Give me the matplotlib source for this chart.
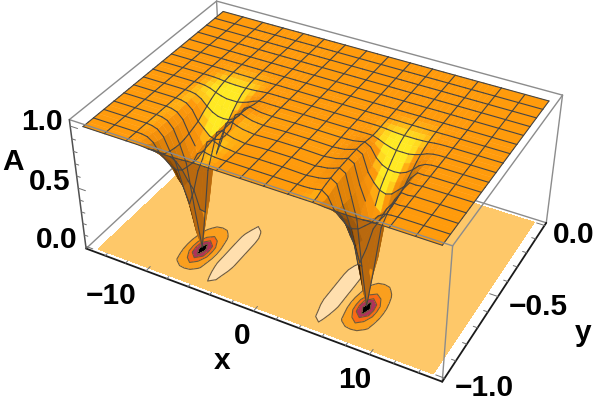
import numpy as np
import matplotlib
matplotlib.use("Agg")
import matplotlib.pyplot as plt
from mpl_toolkits.mplot3d.art3d import Line3DCollection

# ---------------- data ----------------
x_half = np.array([-15, -13, -11, -10.5, -10, -9.5, -9, -8.5, -8, -7.5, -7, -6.5, -6,
                   -5.5, -5, -4.5, -4, -3.5, -3, -1, 0])
y_vals = np.array([-30, -29, -28, -27, -26, -25, -24, -23, -22, -21, -20, -19, -18, -17, -16,
                   -15, -14, -13, -12, -11, -10, -8, -6, -4, -2, 0]) / 30
# A over x = -10.5 ... -3 for the rows y = -1 ... -1/3
A_core = [
    [1.000,1.000,.998,.994,.992,.990,.990,.990,.992,.994,.998,1.000,1.000,1.000,1,1],
    [.999,.995,.980,.950,.930,.915,.910,.915,.930,.951,.984,1.003,1.003,1.001,1,1],
    [.998,.990,.960,.895,.855,.815,.800,.815,.855,.900,.985,1.018,1.008,1.002,1,1],
    [.996,.982,.940,.850,.780,.690,.630,.690,.780,.870,.998,1.026,1.010,1.003,1,.996],
    [.995,.980,.935,.835,.750,.580,.450,.580,.750,.860,1.005,1.032,1.014,1.004,1,.994],
    [.995,.980,.930,.825,.700,.380,.170,.380,.700,.850,1.010,1.036,1.018,1.005,1,.993],
    [.995,.980,.930,.820,.680,.320,.000,.320,.680,.845,1.010,1.036,1.018,1.005,1,.993],
    [.995,.980,.930,.825,.700,.380,.170,.380,.700,.850,1.010,1.036,1.018,1.005,1,.993],
    [.995,.980,.935,.835,.750,.580,.450,.580,.750,.860,1.012,1.036,1.018,1.005,1,.994],
    [.996,.982,.940,.850,.780,.690,.650,.690,.780,.870,1.012,1.036,1.018,1.005,1,.995],
    [.996,.984,.945,.865,.820,.775,.760,.775,.820,.885,1.010,1.034,1.018,1.005,1,.996],
    [.997,.988,.955,.895,.855,.825,.820,.825,.855,.900,1.005,1.030,1.016,1.004,1,.997],
    [.998,.990,.965,.920,.885,.865,.860,.865,.885,.925,.995,1.020,1.010,1.002,1,.998],
    [.999,.993,.975,.945,.920,.905,.900,.905,.920,.945,.985,1.008,1.004,1.001,1,1],
    [1.000,.996,.985,.965,.950,.940,.940,.940,.950,.965,.985,1.000,1.001,1.000,1,1],
    [1.000,.998,.992,.980,.972,.968,.965,.968,.972,.980,.990,.998,1.000,1,1,1],
    [1.000,.999,.996,.990,.987,.985,.985,.985,.987,.990,.995,.999,1.000,1,1,1],
    [1.000,1.000,.998,.996,.995,.994,.994,.994,.995,.996,.998,1.000,1.000,1,1,1],
    [1.000,1.000,.999,.999,.998,.998,.998,.998,.998,.999,.999,1.000,1.000,1,1,1],
    [1,1,1,1,1,1,1,1,1,1,1,1,1,1,1,1],
    [1,1,1,1,1,1,1,1,1,1,1,1,1,1,1,1],
]
# soft streak to the right of the second dip, rows y = -0.9 ... -0.633, at x = 10 and x = 10.5
streak_x10 = [.998, .997, .997, .997, .997, .997, .997, .998, .999]
streak_x105 = [.996, .994, .994, .993, .993, .994, .994, .996, .998]
z_ticks_major = [0.0, 0.5, 1.0]
x_ticks_major = [-10, 0, 10]
y_ticks_major = [-1.0, -0.5, 0.0]
levels = [-0.1, 0.2, 0.4, 0.6, 0.8, 1.008, 1.2]
level_colors = ['#000000', '#b0325a', '#fa6a14', '#fa9f1e', '#fec869', '#ffdfae']
# text: string, pixel centre
labels = [("1.0", 41.7, 121.7), ("0.5", 50, 181.7), ("0.0", 56.7, 240), ("A", 13, 161.7),
          ("\u221210", 110.7, 296), ("0", 241.7, 336), ("10", 355, 380), ("x", 221.7, 360.7),
          ("0.0", 573.3, 235), ("\u22120.5", 538, 306.7), ("\u22121.0", 484, 388), ("y", 582.7, 332.7)]
# ------------------------------------------------------------

W, H = 596, 407
BX, BY0, BY1, BZ0, BZ1 = 15.9, -1.02, .02, -.02, 1.05
world = [(-BX,BY0,BZ0),(BX,BY0,BZ0),(BX,BY1,BZ0),(-BX,BY0,BZ1),(BX,BY0,BZ1),(BX,BY1,BZ1),(-BX,BY1,BZ1)]
image = [(86,248.3),(442.7,381.7),(546,223),(69.3,120),(452.3,245.7),(562.7,95),(216.7,1)]
R = []
for (x,y,z),(u,v) in zip(world,image):
    a = [x,y*30,z*30,1]
    R.append(a+[0,0,0,0]+[-u*t for t in a])
    R.append([0,0,0,0]+a+[-v*t for t in a])
P = np.linalg.svd(np.array(R))[2][-1].reshape(3,4) @ np.diag([1,30,30,1])
if (P @ np.array([0,-.5,.5,1]))[2] < 0:
    P = -P
M = np.array([P[0], P[1], [0,0,0,-1.], P[2]])

def project(x, y, z):
    h = P @ np.stack([x, y, z, np.ones_like(x)])
    return h[0]/h[2], h[1]/h[2]

fig = plt.figure(figsize=(W/100, H/100), dpi=100)
ax = fig.add_axes([0,0,1,1], projection='3d', computed_zorder=False)
ax.get_proj = lambda: M
ax.apply_aspect = lambda position=None: None
ax.set_axis_off()
ax.viewLim.intervalx = (0, W)
ax.viewLim.intervaly = (H, 0)

# surface table
core = np.array(A_core, dtype=float)
half = np.ones((len(y_vals), len(x_half)))
half[:core.shape[0], 3:3+core.shape[1]] = core
xs = np.r_[x_half, -x_half[-2::-1]]
Z = np.hstack([half, half[:, -2::-1]])
Z[3:12, list(xs).index(10)] = streak_x10
Z[3:12, list(xs).index(10.5)] = streak_x105
XX, YY = np.meshgrid(xs, y_vals)

def blur(a):
    p = np.pad(a, 1, mode='edge')
    return (p[:-2,1:-1] + p[2:,1:-1] + p[1:-1,:-2] + p[1:-1,2:] + 2*a) / 6

# shading
sx, sy, sz = 1/31.8, 0.65, 0.45
def cell_colors():
    d1 = np.stack([(XX[1:,1:]-XX[:-1,:-1])*sx, (YY[1:,1:]-YY[:-1,:-1])*sy, (Z[1:,1:]-Z[:-1,:-1])*sz], -1)
    d2 = np.stack([(XX[1:,:-1]-XX[:-1,1:])*sx, (YY[1:,:-1]-YY[:-1,1:])*sy, (Z[1:,:-1]-Z[:-1,1:])*sz], -1)
    n = np.cross(d2, d1)
    n[n[...,2] < 0] *= -1
    n /= np.linalg.norm(n, axis=-1, keepdims=True)
    l = np.array([.25, -.6, .76]); l /= np.linalg.norm(l)
    t = blur(n @ l)
    stops_t = [-.2, .25, .55, .76, .84, .92]
    stops_c = np.array([[120,65,0],[190,110,5],[240,140,10],[255,155,12],[255,205,28],[255,234,35]])/255
    c = np.stack([np.interp(t, stops_t, stops_c[:,i]) for i in range(3)], -1)
    # cells seen from below are brown
    u, v = project(XX.ravel(), YY.ravel(), Z.ravel())
    u = u.reshape(XX.shape); v = v.reshape(XX.shape)
    area = (u[1:,1:]-u[:-1,:-1])*(v[1:,:-1]-v[:-1,1:]) - (v[1:,1:]-v[:-1,:-1])*(u[1:,:-1]-u[:-1,1:])
    under = np.sign(area) != np.sign(np.median(area))
    b = np.clip(-(n @ np.array([.75,.1,-.6])) + .55, 0, 1)
    ramp = np.stack([np.interp(b, [0,1], [45,185]), np.interp(b, [0,1], [22,105]), np.interp(b, [0,1], [0,15])], -1)/255
    c[under] = ramp[under]
    return np.dstack([c, np.ones(c.shape[:2])])

GRAY, DARK = '#8c8c8c', '#1a1a1a'
def add_edges(pairs, color=GRAY, lw=1.0, zorder=0):
    ax.add_collection3d(Line3DCollection([[p, q] for p, q in pairs], colors=color, linewidths=lw,
                                         zorder=zorder, capstyle='round'), autolim=False)

A0,B0,C0,D0 = (-BX,BY0,BZ0),(BX,BY0,BZ0),(BX,BY1,BZ0),(-BX,BY1,BZ0)
A1,B1,C1,D1 = (-BX,BY0,BZ1),(BX,BY0,BZ1),(BX,BY1,BZ1),(-BX,BY1,BZ1)
add_edges([(A0,D0),(D0,C0),(D0,D1)])

# floor contours
ax.contourf(XX, YY, Z, levels=levels, colors=level_colors, zdir='z', offset=BZ0, zorder=1)
ax.contour(XX, YY, Z, levels=levels[1:-1], colors='#6e5a3c', linewidths=0.8, zdir='z', offset=BZ0, zorder=1.5)

# surface
ax.plot_surface(XX, YY, Z, facecolors=cell_colors(), rstride=1, cstride=1, shade=False,
                linewidth=0.3, antialiased=True, zorder=2)

# mesh lines
lu, lv = project(np.array([-15.,15.]), np.array([-1.,-1.]), np.array([1.,1.]))
mesh = []
def mesh_line(x, y, z):
    u, v = project(x, y, z)
    lip = lv[0] + (u-lu[0])*(lv[1]-lv[0])/(lu[1]-lu[0])
    hide = (y > -0.8) & (v > lip + 0.5)
    for a in range(len(x)-1):
        if not (hide[a] or hide[a+1]):
            mesh.append([(x[a],y[a],z[a]), (x[a+1],y[a+1],z[a+1])])
keep_y = [j for j, yy in enumerate(y_vals) if abs(yy*15 - round(yy*15)) < 1e-6]
keep_x = [i for i, xx in enumerate(xs) if abs((xx+15)/2 - round((xx+15)/2)) < 1e-6]
for j in keep_y:
    mesh_line(xs, np.full(xs.shape, y_vals[j]), Z[j])
for i in keep_x:
    mesh_line(np.full(y_vals.shape, xs[i]), y_vals, Z[:, i])
ax.add_collection3d(Line3DCollection(mesh, colors='#454545', linewidths=0.8, zorder=3, capstyle='round'), autolim=False)

# box front edges and axes
add_edges([(A1,B1),(B1,C1),(C1,D1),(D1,A1),(B0,B1),(C0,C1)], zorder=4)
add_edges([(A0,B0),(B0,C0)], color=DARK, lw=1.3, zorder=4)
add_edges([(A0,A1)], color='#505050', lw=1.1, zorder=4)

# ticks
tk = []
for v in np.arange(-14, 15, 2):
    L = .03 if v in x_ticks_major else .015
    tk.append(((v,BY0,BZ0),(v,BY0+L,BZ0)))
for v in np.arange(-10, 1)/10:
    L = .7 if round(float(v),1) in y_ticks_major else .35
    tk.append(((BX,v,BZ0),(BX-L,v,BZ0)))
for v in np.arange(0, 11)/10:
    L = .7 if round(float(v),1) in z_ticks_major else .35
    tk.append(((-BX,BY0,v),(-BX+L,BY0,v)))
add_edges(tk, color='#707070', lw=.7, zorder=4)

for s, px, py in labels:
    fig.text(px/W, 1-py/H, s, ha='center', va='center', fontsize=21.5,
             family='Liberation Sans', weight='bold', color='black')

fig.savefig('out.png', dpi=100)
